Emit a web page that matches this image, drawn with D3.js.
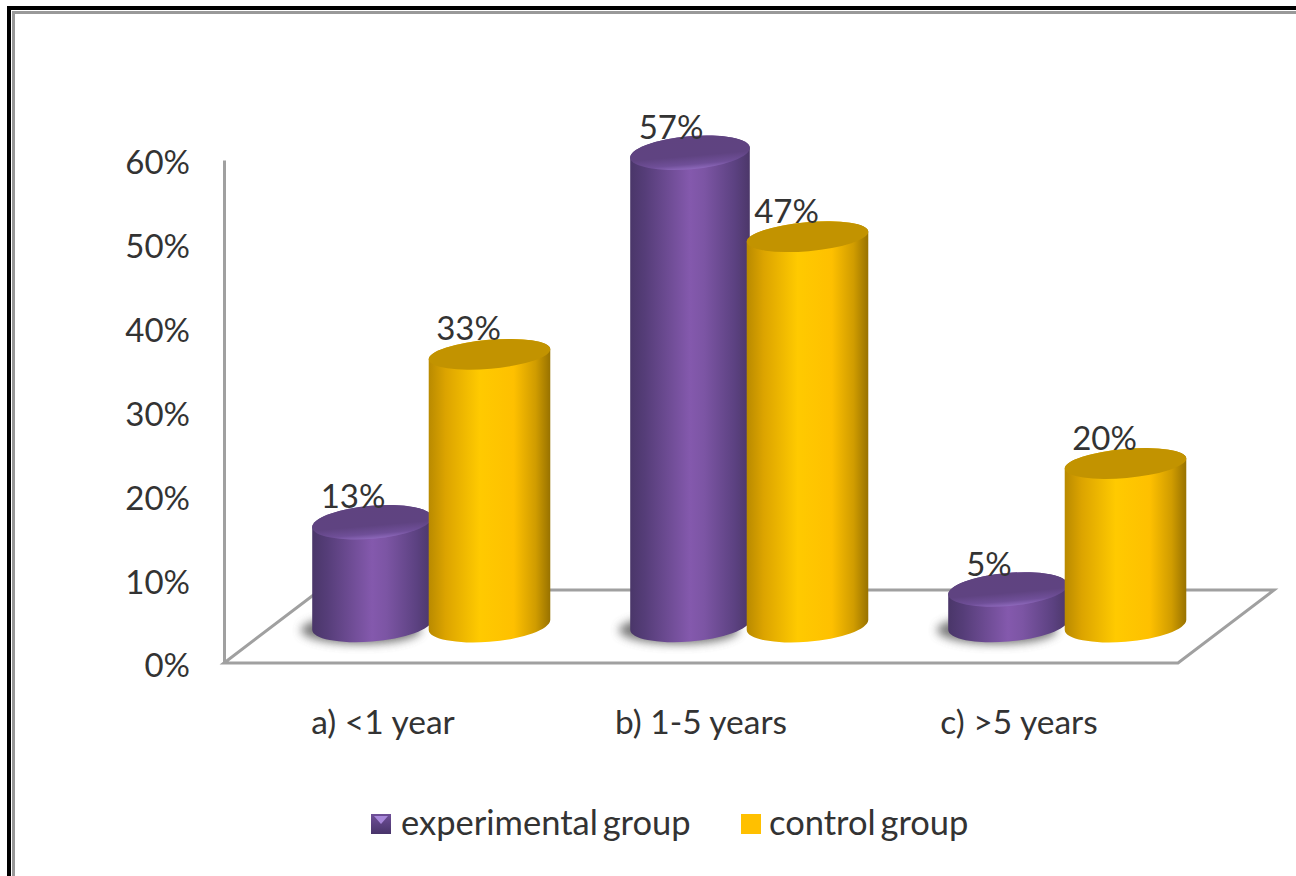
<!DOCTYPE html>
<html>
<head>
<meta charset="utf-8">
<script src="https://cdn.jsdelivr.net/npm/d3@7"></script>
<style>
  html, body { margin: 0; padding: 0; background: #fff; }
  svg { display: block; }
  text { font-family: Lato, "Open Sans", sans-serif; fill: #333; }
</style>
</head>
<body>
<svg id="chart" width="1296" height="876"></svg>
<script>
const categories = ["a) <1 year", "b) 1-5 years", "c) >5 years"];
const seriesNames = ["experimental group", "control group"];
const experimental = [13, 57, 5];
const control = [33, 47, 20];
const yTicks = [0, 10, 20, 30, 40, 50, 60];

const svg = d3.select("#chart");
const defs = svg.append("defs");

// Horizontal shading that gives each column its rounded look
function sideGradient(id, stops) {
  const g = defs.append("linearGradient").attr("id", id)
    .attr("x1", 0).attr("x2", 1).attr("y1", 0).attr("y2", 0);
  stops.forEach(([o, c]) => g.append("stop").attr("offset", o).attr("stop-color", c));
}
sideGradient("sidePurple", [[0, "#4a3669"], [0.12, "#553d78"], [0.5, "#8459ad"], [0.62, "#7c55a4"], [0.88, "#5b4180"], [1, "#4c3769"]]);
sideGradient("sideGold", [[0, "#b98a00"], [0.14, "#dca400"], [0.42, "#ffca00"], [0.7, "#fec000"], [0.88, "#d09c00"], [1, "#987200"]]);

const capPurple = defs.append("linearGradient").attr("id", "capPurple")
  .attr("x1", 0).attr("x2", 0).attr("y1", 0).attr("y2", 1);
[[0, "#5f4380"], [0.6, "#5f4381"], [0.85, "#6f4f98"], [1, "#8d68bb"]]
  .forEach(([o, c]) => capPurple.append("stop").attr("offset", o).attr("stop-color", c));

defs.append("filter").attr("id", "soft").attr("x", "-30%").attr("y", "-60%").attr("width", "160%").attr("height", "220%")
  .append("feGaussianBlur").attr("stdDeviation", 5);

const swatchFill = defs.append("linearGradient").attr("id", "swatchPurple")
  .attr("x1", 0).attr("x2", 0).attr("y1", 0).attr("y2", 1);
[[0, "#6f4f98"], [1, "#48346a"]]
  .forEach(([o, c]) => swatchFill.append("stop").attr("offset", o).attr("stop-color", c));

// Picture frame along the top and left edges
const frame = svg.append("g").attr("fill", "none");
frame.append("path").attr("d", "M9,876V8H1296").attr("stroke", "#000").attr("stroke-width", 4);
frame.append("path").attr("d", "M13.5,876V12.5H1296").attr("stroke", "#999").attr("stroke-width", 3);

// Front plane of the chart
const yAxisScale = d3.scaleLinear().domain([0, 60]).range([663, 160]);
const xFront = d3.scaleBand().domain(categories).range([224, 1178]);

// Column tops sit on a receded plane, so they use their own vertical scale
const depth = { dx: 96, dy: 73 };
const yColumn = d3.scaleLinear().domain([0, 60]).range([631.5, 127.5]);
const columnBase = 625;
const groupOffset = d3.scalePoint().domain(seriesNames).range([-59, 58.5]);

// Floor and back edge
const axisColor = "#a0a0a0";
const floor = [[224, 663], [1178, 663], [1178 + depth.dx, 663 - depth.dy], [224 + depth.dx, 663 - depth.dy]];
svg.append("path")
  .attr("d", d3.line()(floor) + "Z")
  .attr("fill", "none").attr("stroke", axisColor).attr("stroke-width", 3);

// Value axis
const yAxis = svg.append("g").attr("transform", "translate(224,0)")
  .call(d3.axisLeft(yAxisScale).tickValues(yTicks).tickSize(0).tickPadding(34).tickFormat(d => d + "%"));
yAxis.select(".domain").attr("stroke", axisColor).attr("stroke-width", 3);
yAxis.selectAll("text").attr("font-size", 33).attr("dy", "0.42em").style("fill", "#333");

// Category axis
const xAxis = svg.append("g").attr("transform", "translate(0,663)")
  .call(d3.axisBottom(xFront).tickSize(0).tickPadding(47));
xAxis.select(".domain").remove();
xAxis.selectAll("text").attr("font-size", 33.5).style("fill", "#333");

// Outline of a slightly tilted cylinder, running between the silhouette points of its ellipses
function silhouette(a, b, deg) {
  const th = deg * Math.PI / 180;
  const t = Math.atan(-(b / a) * Math.tan(th));
  return {
    ex: a * Math.cos(t) * Math.cos(th) - b * Math.sin(t) * Math.sin(th),
    ey: a * Math.cos(t) * Math.sin(th) + b * Math.sin(t) * Math.cos(th)
  };
}
function columnPath(cx, topY, baseY, a, bTop, bBase, deg) {
  const T = silhouette(a, bTop, deg);
  const B = silhouette(a, bBase, deg);
  return `M${cx - T.ex},${topY - T.ey}L${cx - T.ex},${baseY - B.ey}` +
    `A${a},${bBase} ${deg} 0 0 ${cx + T.ex},${baseY + B.ey}` +
    `L${cx + T.ex},${topY + T.ey}A${a},${bTop} ${deg} 0 0 ${cx - T.ex},${topY - T.ey}Z`;
}

const styles = [
  { side: "sidePurple", cap: "url(#capPurple)", rx: 60, bTop: 16.5, bBase: 16.5, labelShift: -19, shadow: true },
  { side: "sideGold", cap: "#c29300", rx: 61, bTop: 14.5, bBase: 17, labelShift: -21, shadow: false }
];
const tilt = -5;

const rows = categories.flatMap((c, i) => [
  { c, s: 0, v: experimental[i] },
  { c, s: 1, v: control[i] }
]).map(d => ({
  ...d,
  cx: xFront(d.c) + xFront.bandwidth() / 2 + depth.dx / 2 + groupOffset(seriesNames[d.s]),
  top: yColumn(d.v),
  style: styles[d.s]
}));

// Soft shadows land on the floor first
svg.append("g").selectAll("ellipse").data(rows.filter(d => d.style.shadow)).join("ellipse")
  .attr("cx", d => d.cx - 11)
  .attr("cy", columnBase + 5)
  .attr("rx", d => d.style.rx)
  .attr("ry", 14)
  .attr("fill", "#555")
  .attr("opacity", 0.8)
  .attr("filter", "url(#soft)");

const column = svg.append("g").selectAll("g").data(rows).join("g");

column.append("path")
  .attr("d", d => columnPath(d.cx, d.top, columnBase, d.style.rx, d.style.bTop, d.style.bBase, tilt))
  .attr("fill", d => `url(#${d.style.side})`);

column.append("ellipse")
  .attr("rx", d => d.style.rx)
  .attr("ry", d => d.style.bTop)
  .attr("transform", d => `translate(${d.cx},${d.top}) rotate(${tilt})`)
  .attr("fill", d => d.style.cap);

// Value labels
svg.append("g").selectAll("text").data(rows).join("text")
  .attr("x", d => d.cx + d.style.labelShift)
  .attr("y", d => d.top - 14)
  .attr("text-anchor", "middle")
  .attr("font-size", 33)
  .text(d => d.v + "%");

// Legend
const legendX = d3.scaleOrdinal().domain(seriesNames).range([371, 741]);
const legend = svg.append("g").selectAll("g").data(seriesNames).join("g")
  .attr("transform", d => `translate(${legendX(d)},814)`);
legend.append("rect")
  .attr("width", 20).attr("height", 20)
  .attr("fill", (d, i) => i === 0 ? "url(#swatchPurple)" : "#ffc000");
legend.filter((d, i) => i === 0).append("path")
  .attr("d", "M3,2H17L10,10Z")
  .attr("fill", "#a888da");
legend.append("text")
  .attr("x", (d, i) => i === 0 ? 30 : 28)
  .attr("y", 21)
  .attr("font-size", 34.5)
  .attr("word-spacing", -4)
  .text(d => d);
</script>
</body>
</html>
